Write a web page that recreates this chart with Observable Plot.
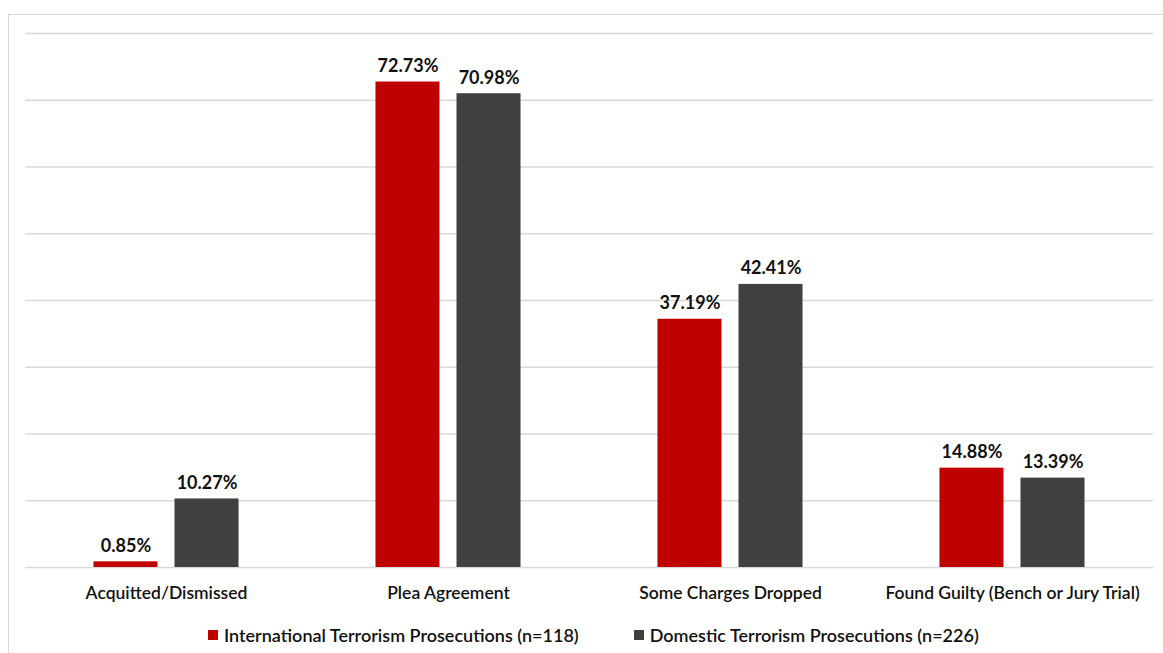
<!DOCTYPE html>
<html>
<head>
<meta charset="utf-8">
<script src="https://cdn.jsdelivr.net/npm/d3@7"></script>
<script src="https://cdn.jsdelivr.net/npm/@observablehq/plot@0.6"></script>
<style>
  html, body { margin: 0; padding: 0; background: #fff; }
  body { width: 1163px; height: 653px; position: relative; overflow: hidden; font-family: Lato, "Open Sans", sans-serif; }
  #frame { position: absolute; left: 8px; top: 14px; width: 1180px; height: 700px; border: 1.5px solid #d9d9d9; box-sizing: border-box; }
  #chart { position: absolute; left: 0; top: 0; }
  #legend { position: absolute; left: 208px; top: 624px; display: flex; align-items: center; font-size: 18px; font-weight: 600; color: #111; white-space: nowrap; }
  #legend .item { display: flex; align-items: center; }
  #legend .sw { width: 10px; height: 10px; margin-right: 6px; }
</style>
</head>
<body>
<div id="frame"></div>
<div id="chart"></div>
<div id="legend"></div>
<script>
// Outcome categories along the bottom
const categories = ["Acquitted/Dismissed", "Plea Agreement", "Some Charges Dropped", "Found Guilty (Bench or Jury Trial)"];
// Two prosecution series
const seriesNames = ["International Terrorism Prosecutions (n=118)", "Domestic Terrorism Prosecutions (n=226)"];
const seriesColors = ["#c00000", "#404040"];
// Percentages per category
const international = [0.85, 72.73, 37.19, 14.88];
const domestic = [10.27, 70.98, 42.41, 13.39];
// Horizontal gridline values
const gridValues = [0, 10, 20, 30, 40, 50, 60, 70, 80];

const rows = [];
categories.forEach((c, i) => {
  rows.push({category: c, series: seriesNames[0], value: international[i]});
  rows.push({category: c, series: seriesNames[1], value: domestic[i]});
});

const chart = Plot.plot({
  width: 1163,
  height: 610,
  marginLeft: 25,
  marginRight: 10,
  marginTop: 33,
  marginBottom: 43,
  style: {fontFamily: "Lato, 'Open Sans', sans-serif", background: "transparent", overflow: "visible"},
  fx: {domain: categories, paddingInner: 0, paddingOuter: 0, round: false, label: null},
  x: {domain: seriesNames, paddingInner: 0.21, paddingOuter: 0.845, round: false, axis: null},
  y: {domain: [0, 80], axis: null},
  color: {domain: seriesNames, range: seriesColors},
  marks: [
    Plot.ruleY(gridValues, {stroke: "#d9d9d9", strokeWidth: 1.5}),
    Plot.barY(rows, {fx: "category", x: "series", y: "value", fill: "series"}),
    Plot.text(rows, {
      fx: "category", x: "series", y: "value",
      text: d => d.value.toFixed(2) + "%",
      dy: -10, lineAnchor: "bottom",
      fontSize: 18, fontWeight: 700, fill: "#111"
    }),
    Plot.axisFx({anchor: "bottom", label: null, tickSize: 0, tickPadding: 19, fontSize: 17.5, fontWeight: 600, fill: "#111"})
  ]
});
document.getElementById("chart").appendChild(chart);

// Legend below the plot
const legend = document.getElementById("legend");
seriesNames.forEach((name, i) => {
  const item = document.createElement("div");
  item.className = "item";
  item.style.marginRight = i === 0 ? "55px" : "0";
  const sw = document.createElement("span");
  sw.className = "sw";
  sw.style.background = seriesColors[i];
  const label = document.createElement("span");
  label.textContent = name;
  item.appendChild(sw);
  item.appendChild(label);
  legend.appendChild(item);
});
</script>
</body>
</html>
